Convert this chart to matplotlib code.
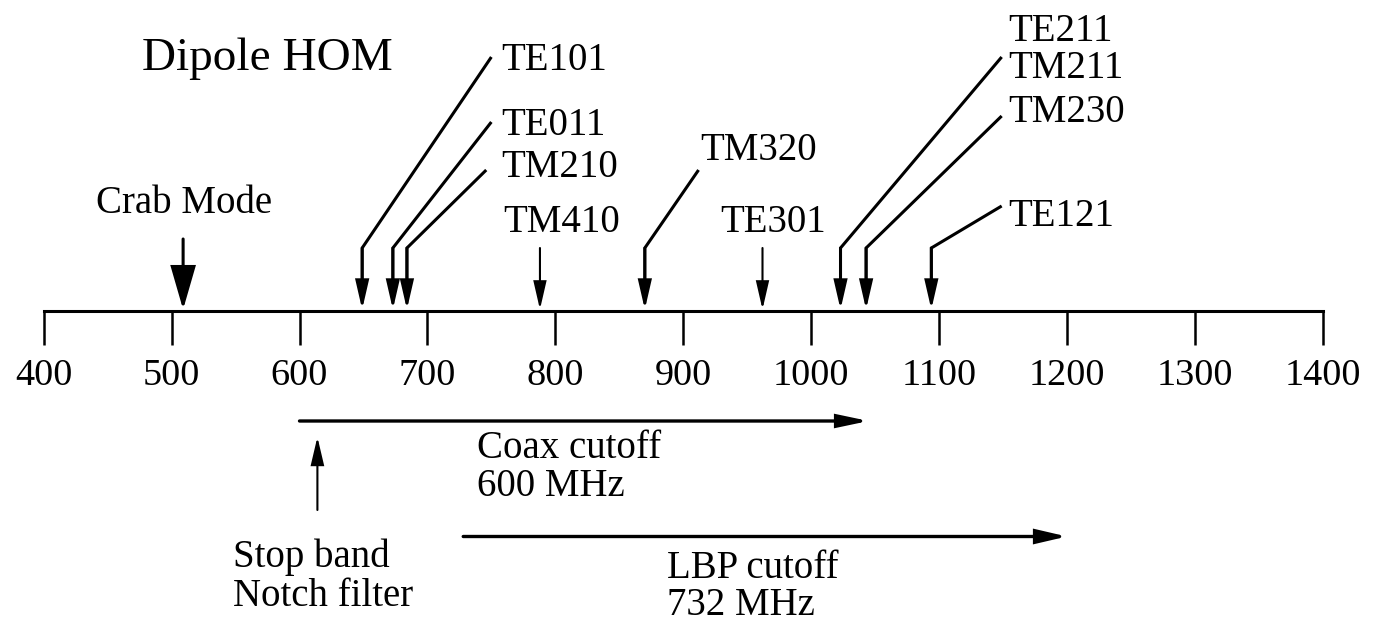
import matplotlib
matplotlib.use("Agg")
import matplotlib.pyplot as plt

plt.rcParams['font.family'] = ['Liberation Serif', 'DejaVu Serif']

# ---------------- data ----------------
tick_values = [400, 500, 600, 700, 800, 900, 1000, 1100, 1200, 1300, 1400]
crab_freq = 509
mode_labels = ["TE101", "TE011", "TM210", "TM410", "TM320", "TE301",
               "TE211\nTM211", "TM230", "TE121"]
mode_freqs = [649, 673, 684, 788, 870, 962, 1023, 1043, 1094]
coax_band = [600, 1045]
lbp_band = [728, 1200]
stopband_freq = 614
coax_text = "Coax cutoff\n600 MHz"
lbp_text = "LBP cutoff\n732 MHz"
stop_text = "Stop band\nNotch filter"

# ---------------- layout (not data) ----------------
# label anchor (x in MHz units, y in pixel rows from top, baseline of last line)
label_pos = [(758, 70), (758, 135), (758, 177), (759, 232), (913, 160),
             (929, 232), (1154, 78), (1154, 122), (1154, 226)]
# leader line top end (None = straight arrow)
leader_top = [(750, 57), (750, 122), (746, 170), None, (912, 170),
              None, (1149, 57), (1149, 116), (1149, 206)]

W, H = 1377, 624
fig = plt.figure(figsize=(W / 100, H / 100), dpi=100)
ax = fig.add_axes([0, 0, 1, 1])
px_per_mhz = 1.279
x0 = 400 - 43.7 / px_per_mhz
ax.set_xlim(x0, x0 + W / px_per_mhz)
ax.set_ylim(H, 0)

AXIS_Y = 311
BEND_Y = 248
TIP_Y = 309.5

# axis with ticks
for s in ['top', 'left', 'right']:
    ax.spines[s].set_visible(False)
ax.spines['bottom'].set_position(('data', AXIS_Y))
ax.spines['bottom'].set_bounds(tick_values[0], tick_values[-1])
ax.spines['bottom'].set_linewidth(2.2)
ax.spines['bottom'].set_capstyle('projecting')
ax.set_yticks([])
ax.set_xticks(tick_values)
ax.set_xticklabels([str(v) for v in tick_values])
ax.tick_params(axis='x', direction='out', length=24.5, width=1.8,
               labelsize=27.5, pad=10, colors='black')
ax.patch.set_visible(False)

FS = 28


def arrow(x1, y1, x2, y2, lw, hl, hw):
    ax.annotate('', xy=(x2, y2), xytext=(x1, y1),
                arrowprops=dict(arrowstyle=f'-|>,head_length={hl},head_width={hw}',
                                lw=lw, color='black', shrinkA=0, shrinkB=0,
                                mutation_scale=1, joinstyle='miter'))


# crab mode
arrow(crab_freq, 239, crab_freq, TIP_Y, 2.2, 27, 7.8)
ax.text(441, 213, "Crab Mode", fontsize=FS, va='baseline', ha='left')

# title
ax.text(477, 70, "Dipole HOM", fontsize=34, va='baseline', ha='left')

# HOM modes
for name, f, (lx, ly), top in zip(mode_labels, mode_freqs, label_pos, leader_top):
    if top is None:
        arrow(f, BEND_Y, f, TIP_Y, 1.5, 17, 3.9)
    else:
        ax.plot([top[0], f, f], [top[1], BEND_Y, 290], color='black', lw=2.2,
                solid_joinstyle='miter', solid_capstyle='butt')
        arrow(f, BEND_Y, f, TIP_Y, 2.0, 17, 3.9)
    ax.text(lx, ly, name, fontsize=FS, va='baseline', ha='left',
            linespacing=1.0)

# cutoff arrows
arrow(coax_band[0], 421, coax_band[1], 421, 2.4, 18, 3.8)
ax.text(739, 496, coax_text, fontsize=FS, va='baseline', ha='left',
        linespacing=1.02)
arrow(lbp_band[0], 536.5, lbp_band[1], 536.5, 2.4, 18, 4.2)
ax.text(887, 615, lbp_text, fontsize=FS, va='baseline', ha='left',
        linespacing=1.0)

# stop band
arrow(stopband_freq, 510, stopband_freq, 437, 1.5, 17, 4.0)
ax.text(548, 606, stop_text, fontsize=FS, va='baseline', ha='left',
        linespacing=1.07)

fig.savefig("out.png", dpi=100)
